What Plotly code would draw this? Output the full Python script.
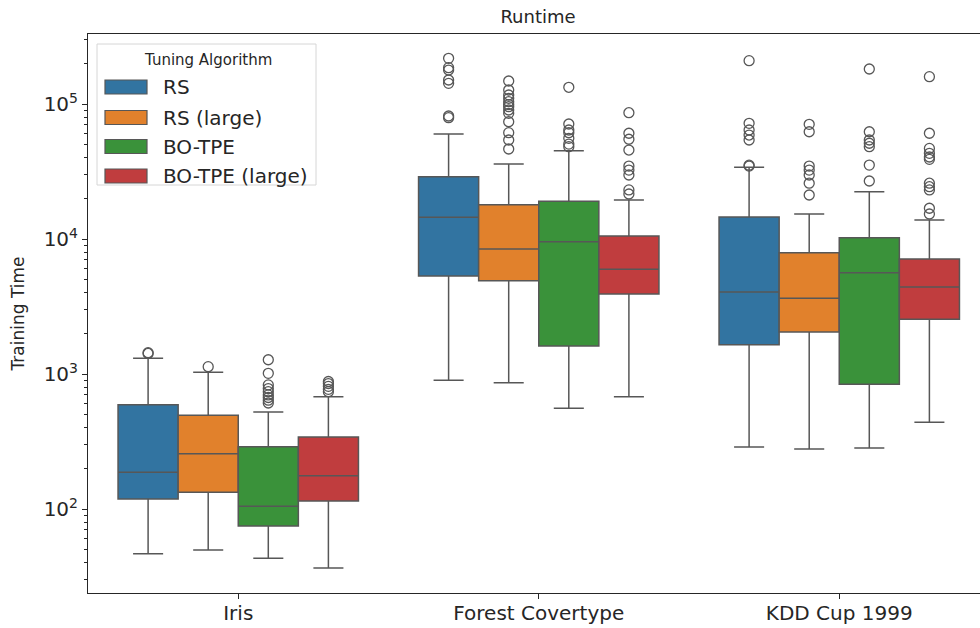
import plotly.graph_objects as go

datasets = ["Iris", "Forest Covertype", "KDD Cup 1999"]
algorithms = ["RS", "RS (large)", "BO-TPE", "BO-TPE (large)"]
colors = ["#3274a1", "#e1812c", "#3a923a", "#c03d3e"]

# rows: dataset, columns: algorithm
lower_whisker = [
    [46.7, 49.7, 43.1, 36.6],
    [898, 862, 557, 679],
    [288, 278, 283, 439],
]
q1 = [
    [118.6, 133, 74.8, 114.6],
    [5320, 4910, 1612, 3913],
    [1648, 2047, 839, 2543],
]
median = [
    [187, 257, 104.7, 176.5],
    [14480, 8430, 9550, 5965],
    [4050, 3640, 5630, 4410],
]
q3 = [
    [592, 494, 289.4, 341],
    [28940, 17950, 19020, 10530],
    [14560, 7920, 10230, 7110],
]
upper_whisker = [
    [1306, 1030, 523, 679],
    [59970, 35930, 45100, 19440],
    [33960, 15320, 22400, 13830],
]
outliers = [
    [
        [1438, 1420],
        [1133],
        [1276, 1012, 830, 780, 740, 700, 670, 640, 610],
        [880, 850, 810, 770, 740],
    ],
    [
        [218000, 185800, 178500, 150600, 142300, 81500, 79200],
        [148000, 127000, 116600, 110200, 104000, 99000, 95500, 90300, 85300,
         73900, 61300, 54100, 46400],
        [133000, 71100, 64200, 61300, 55700, 50500, 48300],
        [86200, 60700, 54800, 45600, 34700, 32400, 29800, 23100, 21550],
    ],
    [
        [209400, 71900, 64200, 58900, 54100, 35200, 34700],
        [70700, 62300, 34700, 32400, 29800, 25900, 21180],
        [181600, 62300, 54100, 51200, 48300, 35300, 26900],
        [159300, 60700, 46900, 43100, 40500, 38900, 25900, 24400, 23100, 16900, 15320],
    ],
]

y_tickvals = [100, 1000, 10000, 100000]
y_ticktext = ["10<sup>2</sup>", "10<sup>3</sup>", "10<sup>4</sup>", "10<sup>5</sup>"]
y_minor = [m * 10 ** e for e in range(1, 6) for m in range(2, 10)]

LINE = "#575757"
TXT = "#262626"
offsets = [-0.3, -0.1, 0.1, 0.3]

fig = go.Figure()
for di in range(len(datasets)):
    for ai in range(len(algorithms)):
        xpos = di + offsets[ai]
        fig.add_trace(go.Box(
            x=[xpos],
            q1=[q1[di][ai]], median=[median[di][ai]], q3=[q3[di][ai]],
            lowerfence=[lower_whisker[di][ai]], upperfence=[upper_whisker[di][ai]],
            width=0.2, whiskerwidth=0.5,
            fillcolor=colors[ai], line=dict(color=LINE, width=1.5),
            boxpoints=False, showlegend=False, hoverinfo="skip",
        ))
        fig.add_trace(go.Scatter(
            x=[xpos] * len(outliers[di][ai]), y=outliers[di][ai],
            mode="markers",
            marker=dict(symbol="circle-open", size=10, color=LINE, line=dict(width=1.3, color=LINE)),
            showlegend=False, hoverinfo="skip",
        ))

W, H = 980, 628
L, R, T, B = 88, 980, 34, 593


def px_x(p):
    return (p - L) / (R - L)


def px_y(p):
    return (B - p) / (B - T)


shapes = []
annotations = []
# legend frame
shapes.append(dict(type="rect", xref="paper", yref="paper",
                   x0=px_x(97), x1=px_x(316), y0=px_y(185), y1=px_y(44),
                   line=dict(color="#d6d6d6", width=1), fillcolor="rgba(255,255,255,0.85)"))
annotations.append(dict(xref="paper", yref="paper", x=px_x(208), y=px_y(60),
                        text="Tuning Algorithm", showarrow=False,
                        font=dict(size=15, color=TXT), xanchor="center", yanchor="middle"))
legend_y = [87, 117.5, 146.5, 176]
for ai, alg in enumerate(algorithms):
    yc = legend_y[ai]
    shapes.append(dict(type="rect", xref="paper", yref="paper",
                       x0=px_x(105), x1=px_x(147), y0=px_y(yc + 7), y1=px_y(yc - 7),
                       line=dict(color=LINE, width=1.2), fillcolor=colors[ai]))
    annotations.append(dict(xref="paper", yref="paper", x=px_x(161), y=px_y(yc),
                            text=alg, showarrow=False,
                            font=dict(size=20, color=TXT), xanchor="left", yanchor="middle"))

fig.update_layout(
    width=W, height=H,
    margin=dict(l=L, r=W - R, t=T, b=H - B),
    plot_bgcolor="white", paper_bgcolor="white",
    font=dict(family="DejaVu Sans", color=TXT),
    title=dict(text="Runtime", x=538 / W, xanchor="center",
               y=1 - 17 / H, yanchor="middle", font=dict(size=18, color=TXT)),
    shapes=shapes, annotations=annotations,
    boxmode="overlay",
)
fig.update_xaxes(
    range=[-0.5, -0.5 + (R - L) / 300.5],
    tickvals=[0, 1, 2], ticktext=datasets,
    ticks="outside", ticklen=5, tickcolor=TXT,
    showline=True, linecolor=TXT, linewidth=1, mirror=True,
    showgrid=False, zeroline=False,
    tickfont=dict(size=20, color=TXT),
    ticklabelstandoff=-3,
)
fig.update_yaxes(
    type="log", range=[1.378, 5.5185],
    tickvals=y_tickvals, ticktext=y_ticktext,
    ticks="outside", ticklen=5, tickcolor=TXT,
    minor=dict(tickvals=y_minor, ticks="outside", ticklen=3, tickcolor=TXT, showgrid=False),
    showline=True, linecolor=TXT, linewidth=1,
    showgrid=False, zeroline=False,
    tickfont=dict(size=20, color=TXT),
    title=dict(text="Training Time", font=dict(size=17, color=TXT), standoff=14),
)

fig.write_html(
    "out.html",
    config={"displayModeBar": False},
    post_script="document.body.style.margin='0';document.body.style.overflow='hidden';",
)
